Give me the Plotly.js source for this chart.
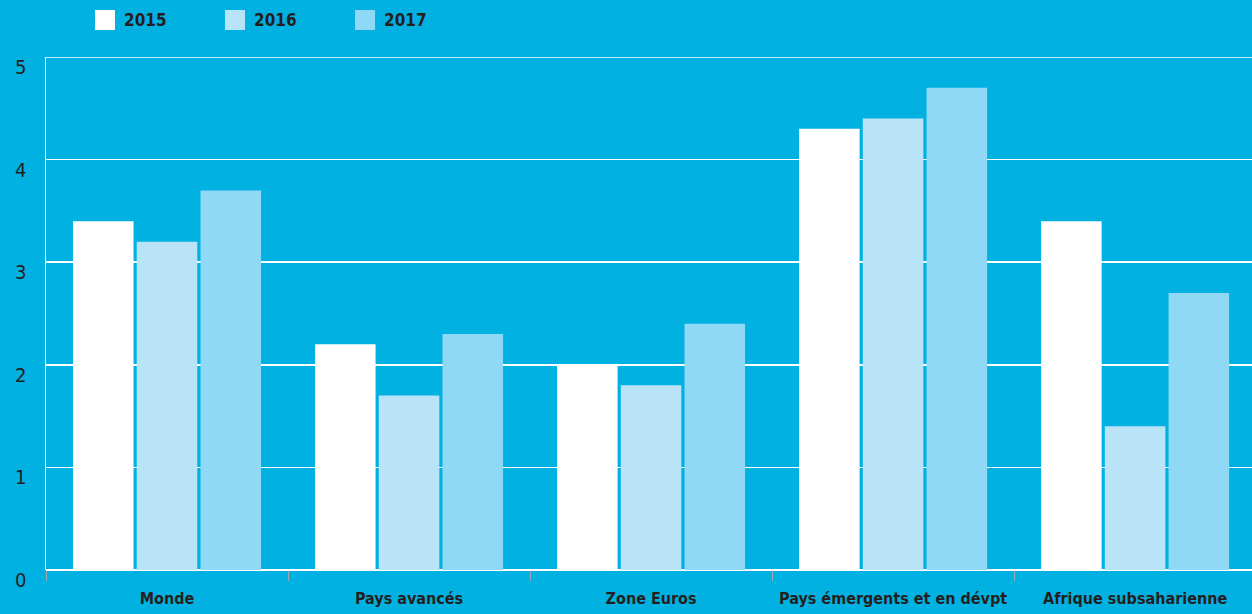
<!DOCTYPE html>
<html><head><meta charset="utf-8">
<script src="https://cdn.plot.ly/plotly-3.0.1.min.js"></script>
<style>html,body{margin:0;padding:0;background:#00b1e2;}#chart{width:1252px;height:614px;}</style>
</head><body><div id="chart"></div>
<script>
const categories = ["Monde", "Pays avancés", "Zone Euros", "Pays émergents et en dévpt", "Afrique subsaharienne"];
const years = ["2015", "2016", "2017"];
const v2015 = [3.4, 2.2, 2.0, 4.3, 3.4];
const v2016 = [3.2, 1.7, 1.8, 4.4, 1.4];
const v2017 = [3.7, 2.3, 2.4, 4.7, 2.7];
const yTicks = [0, 1, 2, 3, 4, 5];

const colors = ["#ffffff", "#b9e4f8", "#8fd8f6"];
const series = [v2015, v2016, v2017];
const FONT = "'Liberation Sans Narrow', 'DejaVu Sans Condensed', Arial, sans-serif";

const traces = series.map((vals, i) => ({
  type: "bar", x: categories, y: vals, name: years[i],
  marker: {color: colors[i], line: {width: 0}}, showlegend: false, hoverinfo: "skip"
}));

const shapes = [], annotations = [];
years.forEach((yr, i) => {
  const x0 = 95 + i * 130;
  shapes.push({type: "rect", xref: "paper", yref: "paper",
    x0: (x0 - 46) / 1206, x1: (x0 + 20 - 46) / 1206,
    y0: (570 - 30) / 513, y1: (570 - 10) / 513,
    fillcolor: colors[i], line: {width: 0}});
  annotations.push({xref: "paper", yref: "paper", x: (x0 + 27 - 46) / 1206, y: (570 - 20) / 513,
    xanchor: "left", yanchor: "middle", text: "<b>" + yr + "</b>", showarrow: false,
    font: {family: FONT, size: 17, color: "#231f20"}});
});
// top gridline (hidden by plotly at the range edge)
shapes.push({type: "line", xref: "paper", yref: "y", x0: 0, x1: 1,
  y0: yTicks[yTicks.length - 1], y1: yTicks[yTicks.length - 1],
  line: {color: "#ffffff", width: 1.5}});

const layout = {
  width: 1252, height: 614,
  margin: {l: 46, r: 0, t: 57, b: 44},
  paper_bgcolor: "#00b1e2", plot_bgcolor: "#00b1e2",
  barmode: "group", bargap: 0.21, bargroupgap: 0.05,
  showlegend: false,
  xaxis: {
    type: "category", range: [-0.5, 4.483], tickangle: 0,
    tickson: "boundaries", ticks: "outside", ticklen: 10, tickwidth: 1, tickcolor: "#9aa7ad",
    showgrid: false, showline: false, zeroline: false, automargin: false,
    ticklabelstandoff: 17,
    tickfont: {family: FONT, size: 16, color: "#231f20", weight: "bold"},
    fixedrange: true
  },
  yaxis: {
    range: [0, 5], tickvals: yTicks, ticktext: yTicks.map(String),
    showgrid: true, gridcolor: "#ffffff", gridwidth: 1.5,
    zeroline: true, zerolinecolor: "#ffffff", zerolinewidth: 2.5,
    showline: true, linecolor: "#ffffff", linewidth: 1.5,
    ticks: "", ticklabelstandoff: 14, ticklabelshift: 10,
    tickfont: {family: FONT, size: 20, color: "#231f20"},
    fixedrange: true
  },
  shapes: shapes, annotations: annotations
};

Plotly.newPlot("chart", traces, layout, {displayModeBar: false, staticPlot: true});
</script></body></html>
